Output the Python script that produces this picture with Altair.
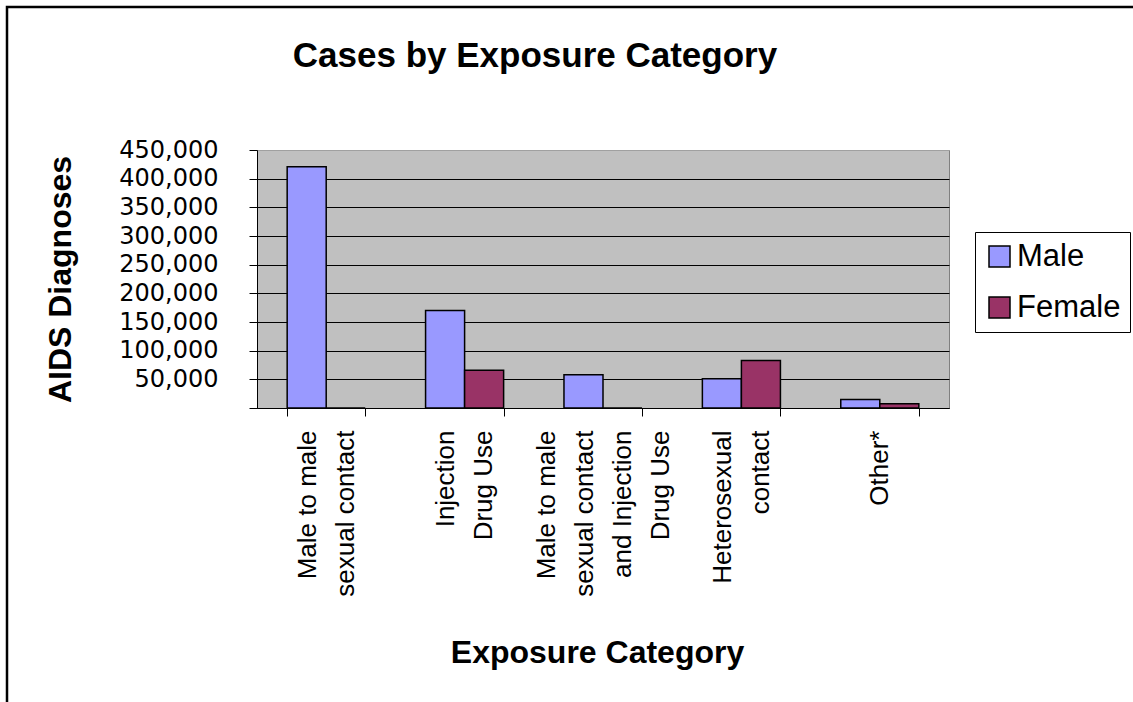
import altair as alt
import pandas as pd

# ---- data ----
categories = [
    "Male to male\nsexual contact",
    "Injection\nDrug Use",
    "Male to male\nsexual contact\nand Injection\nDrug Use",
    "Heterosexual\ncontact",
    "Other*",
]
male = [421000, 170000, 58000, 51000, 15000]
female = [0, 66000, 0, 83000, 7500]
series = ["Male", "Female"]
colors = ["#9999FF", "#993366"]
y_ticks = [0, 50000, 100000, 150000, 200000, 250000, 300000, 350000, 400000, 450000]
chart_title = "Cases by Exposure Category"

rows = []
for c, m, f in zip(categories, male, female):
    rows.append({"category": c, "sex": "Male", "cases": m})
    rows.append({"category": c, "sex": "Female", "cases": f})
df = pd.DataFrame(rows)

W, H = 692, 258
LEFT, TOP = 257, 150
FONT = "Liberation Sans"
LINE_H = 38

bars = alt.Chart(df).mark_bar(stroke="black", strokeWidth=1.5).encode(
    x=alt.X(
        "category:N",
        sort=categories,
        scale=alt.Scale(paddingInner=0.436, paddingOuter=0.218),
        axis=alt.Axis(
            title="Exposure Category",
            labelAngle=270,
            labelAlign="right",
            labelBaseline="middle",
            labelExpr="split(datum.label, '\\n')",
            labelOffset={"expr": f"-{LINE_H / 2}*(length(split(datum.label, '\\n'))-1)"},
            labelFont=FONT,
            labelFontSize=26,
            labelLineHeight=LINE_H,
            labelPadding=14,
            labelColor="black",
            labelOverlap=False,
            tickBand="extent",
            tickSize=8,
            tickColor="black",
            domainColor="black",
            titleFont=FONT,
            titleFontSize=32,
            titleFontWeight="bold",
            titleColor="black",
            titleX=340,
            titleY=254,
            titleAlign="center",
            titleBaseline="alphabetic",
        ),
    ),
    xOffset=alt.XOffset("sex:N", sort=series, scale=alt.Scale(domain=series)),
    y=alt.Y(
        "cases:Q",
        scale=alt.Scale(domain=[0, 450000], nice=False),
        axis=alt.Axis(
            title="AIDS Diagnoses",
            values=y_ticks,
            format=",.0f",
            labelExpr="datum.value == 0 ? '' : datum.label",
            labelFont="DejaVu Sans",
            labelFontSize=24,
            labelColor="black",
            labelPadding=31,
            labelOverlap=False,
            labelBound=False,
            tickSize=8,
            tickColor="black",
            domainColor="black",
            grid=True,
            gridColor=alt.condition("datum.value >= 450000", alt.value("#A0A0A0"), alt.value("black")),
            gridWidth=1,
            titleFont=FONT,
            titleFontSize=32,
            titleFontWeight="bold",
            titleColor="black",
            titleAngle=270,
            titleX=-187,
            titleY=H / 2,
            titleAlign="center",
            titleBaseline="alphabetic",
        ),
    ),
    color=alt.Color(
        "sex:N",
        sort=series,
        scale=alt.Scale(domain=series, range=colors),
        legend=alt.Legend(
            title=None,
            orient="none",
            legendX=718,
            legendY=82,
            symbolType="square",
            symbolSize=441,
            symbolStrokeColor="black",
            symbolStrokeWidth=1.5,
            symbolOpacity=1,
            labelFont=FONT,
            labelFontSize=31,
            labelColor="black",
            labelOffset=2,
            padding=9,
            rowPadding=19,
            strokeColor="black",
            fillColor="white",
        ),
    ),
)

frame = alt.Chart(alt.Data(values=[{}])).mark_rect(
    fill="white", fillOpacity=0, stroke="black", strokeWidth=2.5
).encode(
    x=alt.value(7 - LEFT),
    x2=alt.value(W + 400),
    y=alt.value(7 - TOP),
    y2=alt.value(H + 500),
)

title = alt.Chart(alt.Data(values=[{"t": chart_title}])).mark_text(
    font=FONT, fontSize=35, fontWeight="bold", align="center", baseline="alphabetic", color="black"
).encode(
    text="t:N",
    x=alt.value(535 - LEFT),
    y=alt.value(67 - TOP),
)

chart = (
    alt.layer(frame, bars, title)
    .properties(
        width=W,
        height=H,
        padding={"left": LEFT, "top": TOP, "right": 1133 - LEFT - W, "bottom": 702 - TOP - H},
        autosize=alt.AutoSizeParams(type="none"),
        background="white",
    )
    .configure_view(fill="#C0C0C0", stroke="#808080", strokeWidth=1)
)

chart.save("out.html", embed_options={"renderer": "svg", "actions": False})
